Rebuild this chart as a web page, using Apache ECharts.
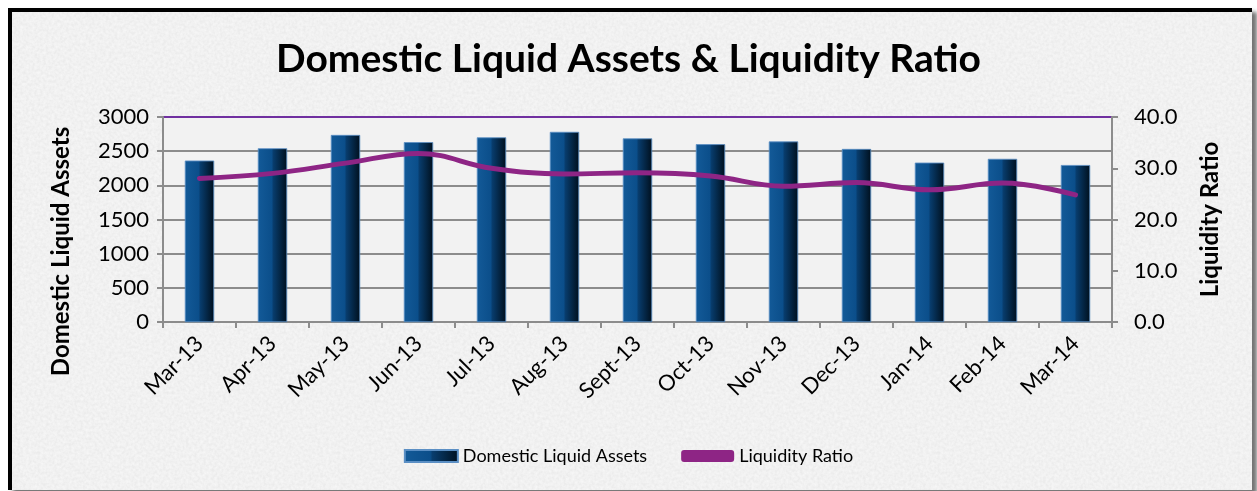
<!DOCTYPE html>
<html>
<head>
<meta charset="utf-8">
<script src="https://cdn.jsdelivr.net/npm/echarts@6/dist/echarts.min.js"></script>
<style>
  html, body { margin: 0; padding: 0; background: #ffffff; }
  #frame {
    position: absolute; left: 8px; top: 8px; width: 1240px; height: 478px;
    border-left: 4px solid #000; border-top: 4px solid #000;
    background-color: #f6f6f6;
    background-image: url("data:image/svg+xml;utf8,<svg xmlns='http://www.w3.org/2000/svg' width='300' height='300'><filter id='n'><feTurbulence type='fractalNoise' baseFrequency='0.35' numOctaves='2' seed='3'/><feColorMatrix values='0 0 0 0 0.5  0 0 0 0 0.5  0 0 0 0 0.5  0 0 0 0.3 -0.06'/></filter><rect width='300' height='300' filter='url(%23n)'/></svg>");
    box-shadow: 5px 4px 4px rgba(0,0,0,0.55);
  }
  #chart { position: absolute; left: 0; top: 0; width: 1257px; height: 491px; }
</style>
</head>
<body>
<div id="frame"></div>
<div id="chart"></div>
<script>
const months = ['Mar-13', 'Apr-13', 'May-13', 'Jun-13', 'Jul-13', 'Aug-13', 'Sept-13',
  'Oct-13', 'Nov-13', 'Dec-13', 'Jan-14', 'Feb-14', 'Mar-14'];
const liquidAssets = [2360, 2540, 2735, 2630, 2700, 2780, 2685, 2600, 2640, 2530, 2330, 2385, 2295];
const liquidityRatio = [28.0, 29.0, 31.0, 32.9, 30.0, 28.9, 29.1, 28.5, 26.5, 27.2, 25.8, 27.1, 24.8];
const leftTicks = [0, 3000, 500];
const rightTicks = [0, 40, 10];

const font = 'Lato, "Open Sans", sans-serif';
const chart = echarts.init(document.getElementById('chart'));

const barColor = new echarts.graphic.LinearGradient(0, 0, 1, 0, [
  { offset: 0, color: '#135a98' },
  { offset: 0.48, color: '#0b4e8a' },
  { offset: 0.52, color: '#083d6e' },
  { offset: 1, color: '#00101e' }
]);

chart.setOption({
  backgroundColor: 'transparent',
  textStyle: { fontFamily: font },
  title: {
    text: 'Domestic Liquid Assets & Liquidity Ratio',
    left: 'center',
    top: 35,
    textStyle: { fontSize: 39, fontWeight: 'bold', color: '#000', fontFamily: font }
  },
  legend: {
    bottom: 21,
    left: 'center',
    itemGap: 34,
    itemWidth: 53,
    itemHeight: 12,
    textStyle: { fontSize: 18, color: '#000', fontFamily: font },
    data: [
      { name: 'Domestic Liquid Assets', icon: 'rect' },
      { name: 'Liquidity Ratio', icon: 'roundRect', itemStyle: { color: '#8e2585' } }
    ]
  },
  grid: { left: 163, right: 145, top: 117, bottom: 169 },
  xAxis: {
    type: 'category',
    data: months,
    axisLine: { lineStyle: { color: '#8c8c8c', width: 2 } },
    axisTick: { show: true, length: 6, lineStyle: { color: '#8c8c8c', width: 2 } },
    axisLabel: { rotate: 45, fontSize: 22, color: '#000', margin: 18, fontFamily: font }
  },
  yAxis: [
    {
      type: 'value',
      min: leftTicks[0], max: leftTicks[1], interval: leftTicks[2],
      name: 'Domestic Liquid Assets',
      nameLocation: 'middle',
      nameRotate: 90,
      nameGap: 90,
      nameTextStyle: {
        fontSize: 24, fontWeight: 'bold', color: '#000', fontFamily: font,
        padding: [0, 64, 0, 0]
      },
      axisLine: { show: true, lineStyle: { color: '#8c8c8c', width: 2 } },
      axisTick: { show: true, length: 6, lineStyle: { color: '#8c8c8c', width: 2 } },
      axisLabel: { fontSize: 22, color: '#000', margin: 14, fontFamily: font, formatter: v => String(v) },
      splitLine: {
        show: true,
        lineStyle: {
          width: 2,
          color: ['#8c8c8c', '#8c8c8c', '#8c8c8c', '#8c8c8c', '#8c8c8c', '#8c8c8c', '#7030a0']
        }
      },
      splitArea: { show: true, areaStyle: { color: ['#f2f2f2'] } }
    },
    {
      type: 'value',
      min: rightTicks[0], max: rightTicks[1], interval: rightTicks[2],
      name: 'Liquidity Ratio',
      nameLocation: 'middle',
      nameRotate: 90,
      nameGap: 86,
      nameTextStyle: { fontSize: 24, fontWeight: 'bold', color: '#000', fontFamily: font },
      axisLine: { show: true, lineStyle: { color: '#8c8c8c', width: 2 } },
      axisTick: { show: true, length: 6, lineStyle: { color: '#8c8c8c', width: 2 } },
      axisLabel: {
        fontSize: 22, color: '#000', margin: 22, fontFamily: font,
        formatter: v => v.toFixed(1)
      },
      splitLine: { show: false }
    }
  ],
  series: [
    {
      name: 'Domestic Liquid Assets',
      type: 'bar',
      data: liquidAssets,
      barWidth: 29,
      itemStyle: { color: barColor, borderColor: '#5b8fc4', borderWidth: 0.5 }
    },
    {
      name: 'Liquidity Ratio',
      type: 'line',
      yAxisIndex: 1,
      data: liquidityRatio,
      smooth: 0.4,
      symbol: 'none',
      lineStyle: { color: '#8e2585', width: 5, cap: 'round' },
      itemStyle: { color: '#8e2585' }
    }
  ]
});
</script>
</body>
</html>
